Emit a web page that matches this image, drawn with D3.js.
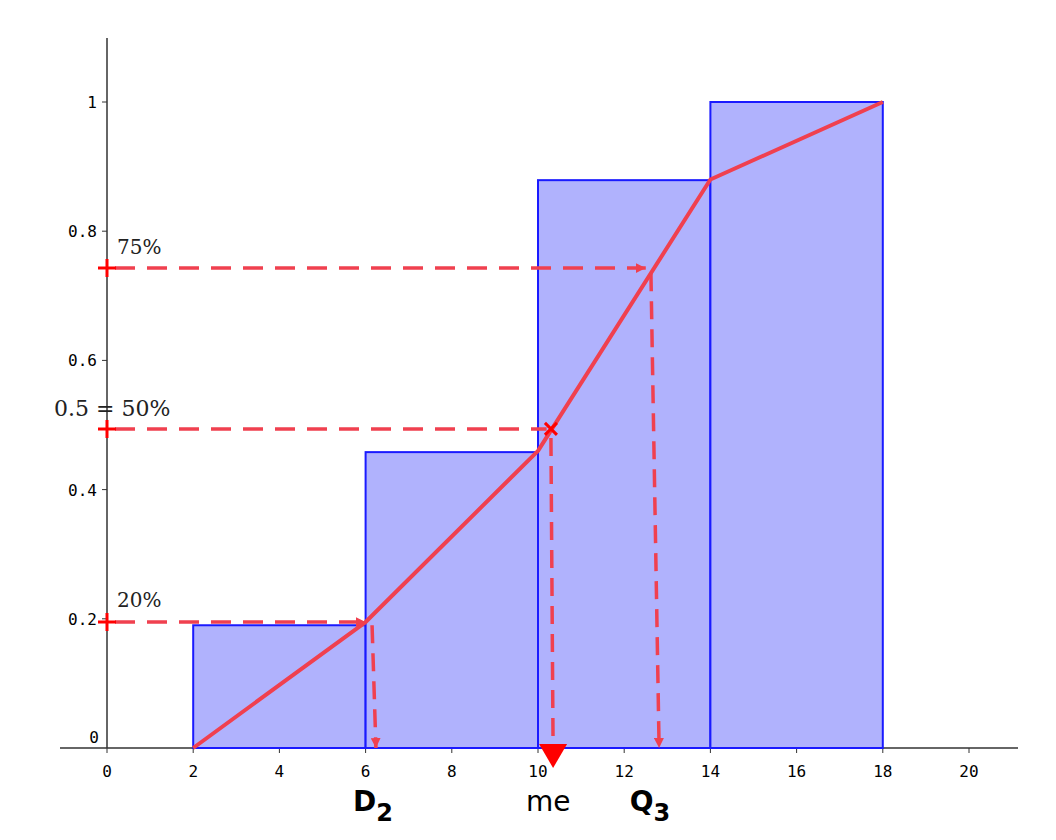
<!DOCTYPE html><html><head><meta charset="utf-8"><script src="https://cdn.jsdelivr.net/npm/d3@7"></script>
<style>body{margin:0;background:#fff}</style></head><body><svg id="c" width="1056" height="840"></svg><script>
const binStarts=[2,6,10,14];
const binEnds=[6,10,14,18];
const binHeights=[0.19,0.458,0.879,1.0];
const cumX=[2,6,10,14,18];
const cumY=[0,0.195,0.46,0.88,1.0];
const xTicks=[0,2,4,6,8,10,12,14,16,18,20];
const yTicks=[0,0.2,0.4,0.6,0.8,1];
const yTickLabels=["0","0.2","0.4","0.6","0.8","1"];
// quantile annotations: level, horizontal end x, vertical top x, vertical bottom x
const qLevels=[0.195,0.494,0.743];
const qHorizEnd=[6.0,10.2,12.5];
const qTopX=[6.15,10.3,12.62];
const qTopY=[0.19,0.48,0.735];
const qBotX=[6.24,10.35,12.81];
const qPctLabels=["20%","0.5 = 50%","75%"];
const qNames=["D","me","Q"];
const qSubs=["2","","3"];

const svg=d3.select("#c");
const x=d3.scaleLinear().domain([0,20]).range([107,969]);
const y=d3.scaleLinear().domain([0,1]).range([748,102]);
const red="#f0404f";
svg.append("defs").html(`<marker id="ah" viewBox="0 0 10 10" refX="10" refY="5" markerWidth="10" markerHeight="10" markerUnits="userSpaceOnUse" orient="auto"><path d="M0,0L10,5L0,10z" fill="${red}"/></marker>
<marker id="ah2" viewBox="0 0 10 10" refX="10" refY="5" markerWidth="10" markerHeight="8" markerUnits="strokeWidth" orient="auto"><path d="M0,0L10,5L0,10z" fill="${red}"/></marker>`);
// axes
svg.append("line").attr("x1",x(0)).attr("x2",x(0)).attr("y1",38).attr("y2",y(0)).attr("stroke","#333").attr("stroke-width",1.5);
svg.append("line").attr("x1",60).attr("x2",1018).attr("y1",y(0)).attr("y2",y(0)).attr("stroke","#333").attr("stroke-width",1.5);
const mono="DejaVu Sans Mono, monospace";
xTicks.forEach(t=>{svg.append("line").attr("x1",x(t)).attr("x2",x(t)).attr("y1",y(0)).attr("y2",y(0)+5).attr("stroke","#333");
 svg.append("text").attr("x",x(t)).attr("y",y(0)+29).attr("text-anchor","middle").attr("font-family",mono).attr("font-size",16).text(t);});
yTicks.forEach((t,i)=>{if(t>0)svg.append("line").attr("x1",x(0)-5).attr("x2",x(0)).attr("y1",y(t)).attr("y2",y(t)).attr("stroke","#333");
 svg.append("text").attr("x",t===0?x(0)-8:x(0)-10).attr("y",y(t)+(t===0?-5:6)).attr("text-anchor","end").attr("font-family",mono).attr("font-size",16).text(yTickLabels[i]);});
// bars
binStarts.forEach((s,i)=>svg.append("rect").attr("x",x(s)).attr("width",x(binEnds[i])-x(s)).attr("y",y(binHeights[i])).attr("height",y(0)-y(binHeights[i])).attr("fill","#b0b2fd").attr("stroke","#1a1aff").attr("stroke-width",2));
// cumulative
svg.append("path").attr("d",d3.line().x((d,i)=>x(cumX[i])).y(d=>y(d))(cumY)).attr("fill","none").attr("stroke",red).attr("stroke-width",4).attr("stroke-linejoin","round");
// annotations
qLevels.forEach((L,i)=>{
 svg.append("line").attr("x1",x(0)+8).attr("y1",y(L)).attr("x2",x(qHorizEnd[i])).attr("y2",y(L)).attr("stroke",red).attr("stroke-width",3.5).attr("stroke-dasharray","20,12").attr("marker-end",i===1?null:"url(#ah)");
 svg.append("line").attr("x1",x(qTopX[i])).attr("y1",y(qTopY[i])).attr("x2",x(qBotX[i])).attr("y2",y(0)).attr("stroke",red).attr("stroke-width",3.5).attr("stroke-dasharray","18,10").attr("marker-end",i===1?null:"url(#ah)");
 // cross on y axis
 svg.append("path").attr("d",`M${x(0)-9},${y(L)}H${x(0)+9}M${x(0)},${y(L)-9}V${y(L)+9}`).attr("stroke","#f00").attr("stroke-width",3);
});
// median marker x and triangle
const mx=x(qTopX[1]),my=y(qLevels[1]);
svg.append("path").attr("d",`M${mx-6},${my-6}L${mx+6},${my+6}M${mx-6},${my+6}L${mx+6},${my-6}`).attr("stroke","#f00").attr("stroke-width",3);
svg.append("path").attr("d",`M${x(qBotX[1])-14},${y(0)-4}L${x(qBotX[1])+14},${y(0)-4}L${x(qBotX[1])},${y(0)+20}z`).attr("fill","#f00");
// percent labels
const serif="DejaVu Serif, serif";
svg.append("text").attr("x",117).attr("y",y(qLevels[0])-15).attr("font-family",serif).attr("font-size",20).attr("fill","#222").text(qPctLabels[0]);
svg.append("text").attr("x",54).attr("y",y(qLevels[1])-13).attr("font-family",serif).attr("font-size",22).attr("fill","#222").text(qPctLabels[1]);
svg.append("text").attr("x",117).attr("y",y(qLevels[2])-14).attr("font-family",serif).attr("font-size",20).attr("fill","#222").text(qPctLabels[2]);
// names
const nx=[x(6.1)-17,x(10)-12,x(12.5)-16];
qNames.forEach((n,i)=>{const t=svg.append("text").attr("x",nx[i]).attr("y",811).attr("font-family","DejaVu Sans, sans-serif").attr("font-weight",i===1?"normal":"bold").attr("font-size",28).text(n);
 if(qSubs[i])t.append("tspan").attr("dy",10).attr("font-size",24).text(qSubs[i]);});
</script></body></html>
